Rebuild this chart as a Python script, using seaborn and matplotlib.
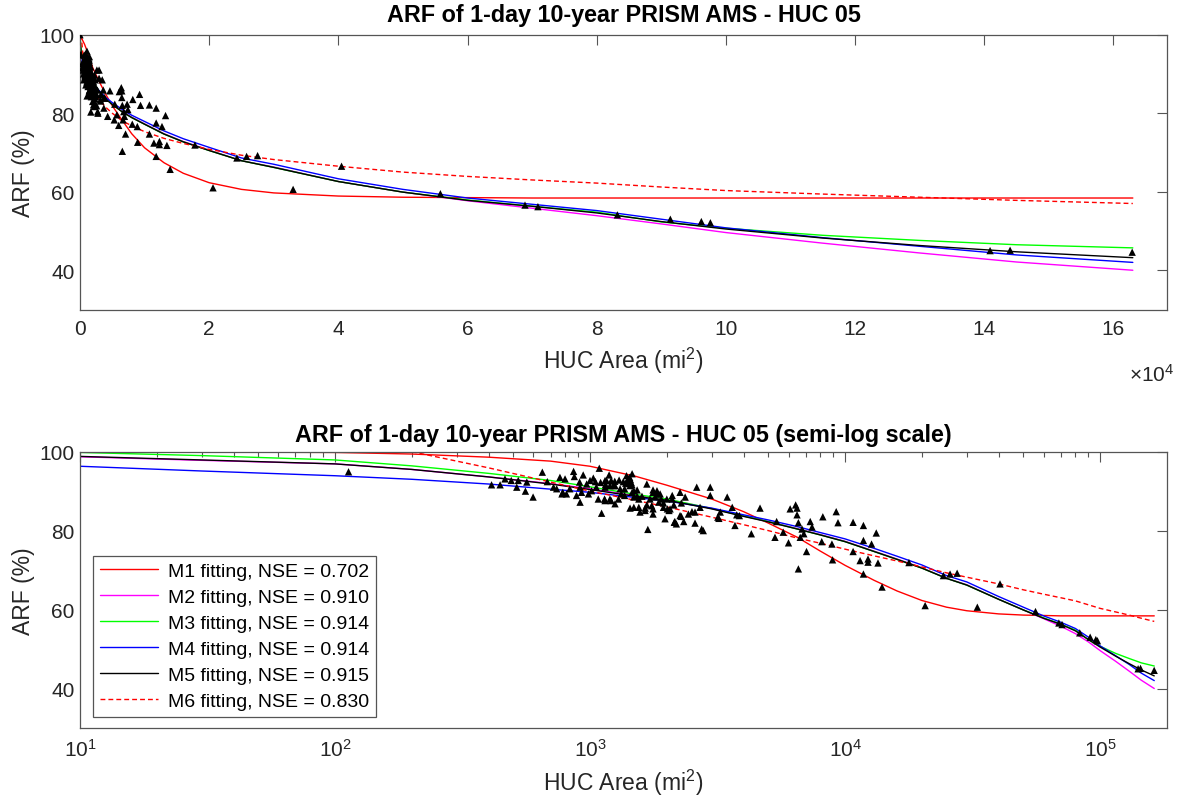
import numpy as np
import pandas as pd
import matplotlib
matplotlib.use("Agg")
import matplotlib.pyplot as plt
import matplotlib.ticker as mticker
import seaborn as sns

# ---------------- data ----------------
pt_area = [1, 113, 411, 444, 464, 491, 516, 523, 565, 558, 598, 650, 680, 719, 762, 782, 798,
           862, 868, 910, 914, 940, 926, 885, 914, 1000, 1030, 1014, 1058, 1077, 1087, 1110,
           1160, 1188, 1197, 1235, 1253, 1293, 1390, 1413, 1435, 1462, 1366, 1485, 1530, 1553,
           1485, 1570, 1644, 1670, 1685, 1766, 1799, 1830, 1860, 1900, 1940, 1968, 2060, 2140,
           2180, 2254, 1145, 1210, 1435, 1645, 1670, 1766, 1766, 1940, 2040, 2100, 2130, 2150,
           1325, 1366, 1462, 1485, 1530, 1553, 1766, 1830, 1883, 1400, 1420, 1440, 1450, 1460,
           1380, 1430, 1350, 1300, 1250, 1150, 1100, 1050, 1145, 1210, 1145, 1197, 1253,
           776, 808, 833, 740, 970, 986, 1140, 1312, 1598, 1718, 1745, 2000, 2010, 2100,
           2280, 2330, 2360, 2254, 2280, 2430, 2510, 2580, 2580, 2620, 2700, 2740, 2780, 2960,
           2960, 3170, 3240, 3200, 3450, 3610, 3700, 3760, 3850, 4290, 4640, 5310, 5390, 5720,
           6000, 6090, 6400, 6480, 6480, 6560, 6560, 6670, 6780, 6890, 7060, 7300, 7420, 8100,
           8180, 8930, 8880, 9230, 9380, 10750, 10750, 11450, 11800, 11800, 11800, 12300, 12300,
           12700, 13250, 13460, 13960, 17800, 20600, 24300, 25800, 27500, 33000, 40500, 55800,
           68900, 70900, 83200, 91400, 96200, 97600, 140900, 144000, 162900]
pt_arf = [100.0, 94.9, 91.6, 91.6, 93.1, 92.7, 91.0, 92.7, 92.3, 90.0, 88.5, 94.8, 92.4, 91.0, 93.5,
          89.7, 93.1, 95.0, 93.7, 92.3, 91.0, 94.1, 89.7, 88.9, 87.2, 92.7, 93.3, 90.1, 91.0,
          88.0, 95.8, 84.4, 92.7, 94.1, 88.0, 91.4, 86.8, 88.0, 93.9, 93.1, 91.4, 94.4, 90.6,
          90.1, 88.7, 85.9, 85.9, 84.7, 85.1, 91.8, 80.3, 89.7, 88.5, 90.1, 87.2, 88.0, 85.9,
          83.0, 85.5, 82.1, 81.7, 83.8, 87.6, 87.6, 85.7, 85.7, 86.5, 85.5, 84.2, 87.0, 85.1,
          88.0, 86.5, 82.3, 89.3, 88.9, 89.7, 88.5, 90.3, 88.0, 90.3, 89.3, 89.3, 92.5, 91.9,
          92.9, 92.2, 91.6, 92.0, 93.5, 92.4, 92.8, 92.5, 91.7, 92.2, 92.4, 92.7, 92.7, 91.0,
          91.4, 91.4, 89.3, 89.3, 90.6, 90.6, 91.8, 89.3, 88.0, 90.6, 88.7, 88.0, 86.3, 88.0,
          85.5, 88.9, 83.6, 82.3, 88.5, 89.7, 87.0, 84.2, 84.8, 84.7, 81.9, 91.0, 85.9, 80.4,
          80.0, 91.0, 88.9, 83.4, 84.7, 83.1, 88.5, 85.9, 81.3, 84.0, 83.8, 79.2, 85.7, 78.3,
          82.3, 79.6, 76.9, 85.5, 86.5, 85.7, 84.0, 82.0, 70.3, 78.3, 80.4, 79.2, 74.7, 82.3,
          80.9, 77.2, 83.5, 72.6, 76.6, 84.8, 82.0, 82.1, 74.7, 72.4, 81.3, 77.5, 69.0, 72.8,
          72.0, 76.6, 79.4, 71.8, 65.7, 71.9, 61.0, 68.6, 69.0, 69.2, 60.6, 66.5, 59.5, 56.6,
          56.2, 54.1, 53.0, 52.4, 52.1, 45.0, 45.1, 44.6]

area_fit = [10, 30, 100, 200, 400, 700, 1000, 1500, 2000, 3000, 4000, 5000, 6500, 8000, 10000,
            13000, 16000, 20000, 25000, 30000, 40000, 50000, 60000, 70000, 80000, 90000, 100000,
            115000, 130000, 145000, 163000]
m1_fit = [100.0, 99.9, 99.8, 99.4, 98.6, 97.6, 96.3, 93.8, 91.5, 88.0, 84.8, 81.9, 78.3, 74.8,
          71.2, 67.4, 64.7, 62.3, 60.6, 59.7, 58.9, 58.6, 58.5, 58.4, 58.4, 58.4, 58.4, 58.4,
          58.4, 58.4, 58.4]
m2_fit = [98.7, 97.8, 96.9, 95.5, 93.6, 91.9, 90.6, 88.9, 87.9, 85.6, 83.7, 82.3, 80.5, 79.0,
          77.3, 74.8, 72.8, 70.6, 67.9, 66.3, 62.6, 59.9, 57.7, 55.8, 53.9, 51.8, 49.6, 46.9,
          44.4, 42.1, 40.0]
m3_fit = [99.8, 99.0, 97.9, 96.4, 94.5, 92.7, 91.1, 89.2, 88.0, 85.6, 83.7, 82.3, 80.4, 78.9,
          77.2, 74.7, 72.7, 70.5, 67.9, 66.2, 62.6, 59.9, 57.9, 56.3, 54.8, 52.3, 50.7, 48.9,
          47.6, 46.5, 45.7]
m4_fit = [96.3, 95.1, 93.9, 93.0, 91.8, 90.5, 89.7, 88.4, 87.5, 85.7, 84.0, 82.7, 81.0, 79.5,
          77.9, 75.5, 73.5, 71.3, 68.6, 67.0, 63.3, 60.6, 58.4, 56.8, 55.2, 53.0, 50.8, 48.3,
          46.1, 43.9, 42.0]
m5_fit = [98.8, 97.9, 96.9, 95.5, 93.6, 91.8, 90.4, 88.7, 87.7, 85.5, 83.6, 82.2, 80.4, 78.9,
          77.2, 74.7, 72.7, 70.5, 67.9, 66.2, 62.6, 59.9, 57.8, 56.3, 54.6, 52.4, 50.5, 48.2,
          46.3, 44.7, 43.2]
area_m6 = [200, 400, 700, 1000, 1500, 2000, 3000, 4000, 5000, 6500, 8000, 10000, 13000, 16000,
           20000, 25000, 30000, 40000, 50000, 60000, 70000, 80000, 90000, 100000, 115000,
           130000, 145000, 163000]
m6_fit = [100.0, 95.9, 92.3, 90.0, 87.7, 86.0, 83.4, 81.5, 80.0, 78.1, 76.8, 75.3, 73.6, 72.3,
          70.8, 69.3, 68.2, 66.5, 65.0, 63.9, 63.0, 62.2, 61.2, 60.3, 59.4, 58.6, 57.8, 57.0]

model_names = ["M1", "M2", "M3", "M4", "M5", "M6"]
nse_values = ["0.702", "0.910", "0.914", "0.914", "0.915", "0.830"]
model_colors = ["#ff0000", "#ff00ff", "#00ff00", "#0000ff", "#000000", "#ff0000"]

title_top = "ARF of 1-day 10-year PRISM AMS - HUC 05"
title_bot = "ARF of 1-day 10-year PRISM AMS - HUC 05 (semi-log scale)"
xlabel = "HUC Area (mi$^{2}$)"
ylabel = "ARF (%)"
offset_label = r"$\times10^{4}$"

# ---------------- style ----------------
sns.set_theme(style="white")
plt.rcParams["font.family"] = ["Liberation Sans", "DejaVu Sans"]
plt.rcParams["mathtext.fontset"] = "custom"
plt.rcParams["mathtext.rm"] = "Liberation Sans"
plt.rcParams["mathtext.it"] = "Liberation Sans:italic"
plt.rcParams["mathtext.bf"] = "Liberation Sans:bold"

TXT = "#262626"
AX = "#555555"
TICK_FS = 15
LAB_FS = 16.5
TITLE_FS = 16.8
LEG_FS = 14

fig = plt.figure(figsize=(11.81, 8.04), dpi=100)
fig.patch.set_facecolor("white")
ax1 = fig.add_axes([0.0677, 0.6138, 0.9205, 0.3418])
ax2 = fig.add_axes([0.0677, 0.0933, 0.9205, 0.3437])

fits = [m1_fit, m2_fit, m3_fit, m4_fit, m5_fit, m6_fit]
areas = [area_fit] * 5 + [area_m6]


def draw(ax):
    handles = []
    for name, col, a, v in zip(model_names, model_colors, areas, fits):
        sns.lineplot(x=a, y=v, ax=ax, color=col, lw=1.0, estimator=None, sort=False,
                     legend=False, zorder=2)
        ln = ax.lines[-1]
        if name == "M6":
            ln.set_dashes((3.5, 2.2))
        handles.append(ln)
    sns.scatterplot(x=pt_area, y=pt_arf, ax=ax, marker="^", color="black", s=28,
                    edgecolor="none", linewidth=0, zorder=3, legend=False)
    for sp in ax.spines.values():
        sp.set_color(AX)
        sp.set_linewidth(0.9)
        sp.set_visible(True)
    ax.tick_params(which="both", direction="in", top=True, right=True, colors=AX,
                   labelcolor=TXT, labelsize=TICK_FS, width=0.8)
    ax.tick_params(which="major", length=7)
    ax.tick_params(which="minor", length=3.5)
    ax.tick_params(axis="y", pad=4)
    ax.tick_params(axis="x", pad=7)
    ax.set_ylim(30, 100)
    ax.yaxis.set_major_locator(mticker.FixedLocator([40, 60, 80, 100]))
    ax.set_xlabel(xlabel, fontsize=LAB_FS, color=TXT, labelpad=5)
    ax.set_ylabel(ylabel, fontsize=LAB_FS, color=TXT, labelpad=3)
    ax.grid(False)
    return handles


draw(ax1)
ax1.set_xlim(0, 1.683e5)
ax1.xaxis.set_major_locator(mticker.MultipleLocator(2e4))
ax1.xaxis.set_major_formatter(mticker.FuncFormatter(lambda v, p: "%d" % round(v / 1e4)))
ax1.text(1.007, -0.235, offset_label, transform=ax1.transAxes, ha="right", va="center",
         fontsize=TICK_FS, color=TXT)
ax1.set_title(title_top, fontsize=TITLE_FS, fontweight="bold", color="black", pad=10)

hs = draw(ax2)
ax2.set_xscale("log")
ax2.set_xlim(10, 1.83e5)
ax2.xaxis.set_major_locator(mticker.LogLocator(base=10, numticks=10))
ax2.xaxis.set_minor_locator(mticker.LogLocator(base=10, subs=np.arange(2, 10), numticks=20))
ax2.xaxis.set_major_formatter(mticker.FuncFormatter(lambda v, p: r"$10^{%d}$" % round(np.log10(v))))
ax2.xaxis.set_minor_formatter(mticker.NullFormatter())
ax2.set_title(title_bot, fontsize=TITLE_FS, fontweight="bold", color="black", pad=8)

labels = [f"{n} fitting, NSE = {s}" for n, s in zip(model_names, nse_values)]
leg = ax2.legend(hs, labels, loc="lower left", bbox_to_anchor=(0.012, 0.04),
                 fontsize=LEG_FS, frameon=True, fancybox=False, framealpha=1,
                 edgecolor=AX, handlelength=3.0, handletextpad=0.5, labelspacing=0.43,
                 borderpad=0.35, borderaxespad=0.0)
leg.get_frame().set_linewidth(0.9)
for t in leg.get_texts():
    t.set_color("black")

fig.savefig("out.png", dpi=100, facecolor="white")
